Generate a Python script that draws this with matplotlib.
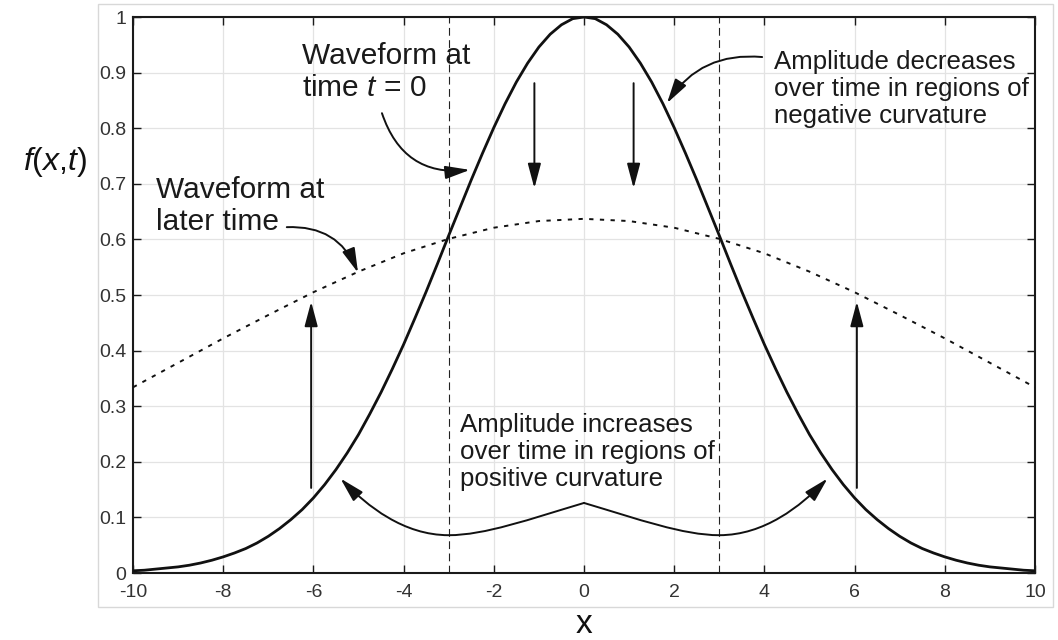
import matplotlib
matplotlib.use("Agg")
import matplotlib.pyplot as plt
from matplotlib.patches import Rectangle, FancyArrowPatch
from matplotlib.path import Path

plt.rcParams['font.family'] = ['Liberation Sans', 'DejaVu Sans']
plt.rcParams['mathtext.fontset'] = 'custom'
plt.rcParams['mathtext.rm'] = 'Liberation Sans'
plt.rcParams['mathtext.it'] = 'Liberation Sans:italic'

# ---- data ----
x_initial = [i * 0.25 - 10 for i in range(81)]
f_initial = [0.004, 0.005, 0.007, 0.009, 0.011, 0.014, 0.018, 0.023, 0.029, 0.036,
             0.044, 0.054, 0.066, 0.080, 0.096, 0.114, 0.135, 0.159, 0.186, 0.216,
             0.249, 0.286, 0.325, 0.367, 0.411, 0.458, 0.506, 0.556, 0.607, 0.657,
             0.707, 0.755, 0.801, 0.844, 0.883, 0.917, 0.946, 0.969, 0.986, 0.997,
             1.000,
             0.997, 0.986, 0.969, 0.946, 0.917, 0.883, 0.844, 0.801, 0.755, 0.707,
             0.657, 0.607, 0.556, 0.506, 0.458, 0.411, 0.367, 0.325, 0.286, 0.249,
             0.216, 0.186, 0.159, 0.135, 0.114, 0.096, 0.080, 0.066, 0.054, 0.044,
             0.036, 0.029, 0.023, 0.018, 0.014, 0.011, 0.009, 0.007, 0.005, 0.004]
x_later = [-10, -9, -8, -7, -6, -5, -4, -3, -2, -1, 0, 1, 2, 3, 4, 5, 6, 7, 8, 9, 10]
f_later = [0.334, 0.378, 0.422, 0.464, 0.505, 0.542, 0.575, 0.601, 0.621, 0.633, 0.637,
           0.633, 0.621, 0.601, 0.575, 0.542, 0.505, 0.464, 0.422, 0.378, 0.334]
inflection_x = [-3, 3]
x_ticks = [-10, -8, -6, -4, -2, 0, 2, 4, 6, 8, 10]
x_tick_labels = ['-10', '-8', '-6', '-4', '-2', '0', '2', '4', '6', '8', '10']
y_ticks = [0, 0.1, 0.2, 0.3, 0.4, 0.5, 0.6, 0.7, 0.8, 0.9, 1.0]
y_tick_labels = ['0', '0.1', '0.2', '0.3', '0.4', '0.5', '0.6', '0.7', '0.8', '0.9', '1']

W, H = 1058, 640
fig = plt.figure(figsize=(W / 100, H / 100), dpi=100)
fig.patches.append(Rectangle((98 / W, 1 - 607 / H), (1053 - 98) / W, (607 - 4) / H,
                             transform=fig.transFigure, fill=False,
                             edgecolor='#d8d8d8', lw=1.0))
ax = fig.add_axes([133 / W, 1 - 573 / H, (1035 - 133) / W, (573 - 17) / H])

ax.set_xlim(-10, 10)
ax.set_ylim(0, 1)
ax.grid(True, color='#e3e3e3', lw=0.9)
ax.set_axisbelow(True)
for s in ax.spines.values():
    s.set_linewidth(1.5)
    s.set_color('#1a1a1a')
ax.set_xticks(x_ticks)
ax.set_xticklabels(x_tick_labels)
ax.set_yticks(y_ticks)
ax.set_yticklabels(y_tick_labels)
ax.tick_params(direction='in', length=6, width=1, top=True, right=True,
               labelsize=14, labelcolor='#333333', color='#1a1a1a')
ax.tick_params(axis='x', pad=8)
ax.tick_params(axis='y', pad=5)

ax.plot(x_initial, f_initial, color='#111111', lw=2.0, solid_capstyle='butt', zorder=3)
ax.plot(x_later, f_later, color='#111111', lw=1.4, linestyle=(0, (2.2, 3.3)), zorder=3)
for xv in inflection_x:
    ax.axvline(xv, color='#222222', lw=0.8, linestyle=(0, (7, 4)), zorder=2)

txt = dict(color='#1a1a1a')
ax.text(-6.25, 0.955, 'Waveform at\ntime $t$ = 0', fontsize=21.5, va='top', ha='left',
        linespacing=1.2, **txt)
ax.text(-9.5, 0.714, 'Waveform at\nlater time', fontsize=21.5, va='top', ha='left',
        linespacing=1.2, **txt)
ax.text(4.22, 0.94, 'Amplitude decreases\nover time in regions of\nnegative curvature',
        fontsize=18.6, va='top', ha='left', linespacing=1.15, **txt)
ax.text(-2.75, 0.287, 'Amplitude increases\nover time in regions of\npositive curvature',
        fontsize=18.6, va='top', ha='left', linespacing=1.15, **txt)

astyle = '-|>,head_length=0.75,head_width=0.2'
def arr(start, end, rad=0.0):
    ax.annotate('', xy=end, xytext=start,
                arrowprops=dict(arrowstyle=astyle, mutation_scale=20, lw=1.4,
                                color='#111111', shrinkA=0, shrinkB=0,
                                connectionstyle=f'arc3,rad={rad}'), zorder=4)

arr((-4.48, 0.827), (-2.53, 0.725), 0.4)
arr((-6.59, 0.622), (-5.01, 0.540), -0.35)
arr((3.95, 0.928), (1.84, 0.845), 0.3)
arr((-1.1, 0.881), (-1.1, 0.692))
arr((1.1, 0.881), (1.1, 0.692))
arr((-6.05, 0.153), (-6.05, 0.488))
arr((6.05, 0.153), (6.05, 0.488))

codes = [Path.MOVETO, Path.CURVE4, Path.CURVE4, Path.CURVE4,
         Path.CURVE4, Path.CURVE4, Path.CURVE4]
for sgn in (1, -1):
    verts = [(0, 0.126), (sgn * 1.2, 0.097), (sgn * 2.2, 0.068), (sgn * 3.0, 0.068),
             (sgn * 4.0, 0.068), (sgn * 4.8, 0.12), (sgn * 5.4, 0.17)]
    p = FancyArrowPatch(path=Path(verts, codes), arrowstyle=astyle, mutation_scale=20,
                        lw=1.4, color='#111111', zorder=4)
    ax.add_patch(p)

fig.text(55 / W, 1 - 162 / H, '$f$($x$,$t$)', fontsize=23, ha='center', va='center',
         color='#111111')
fig.text(584 / W, 1 - 633 / H, 'x', fontsize=24, ha='center', va='baseline',
         color='#111111')

fig.savefig('out.png', dpi=100)
